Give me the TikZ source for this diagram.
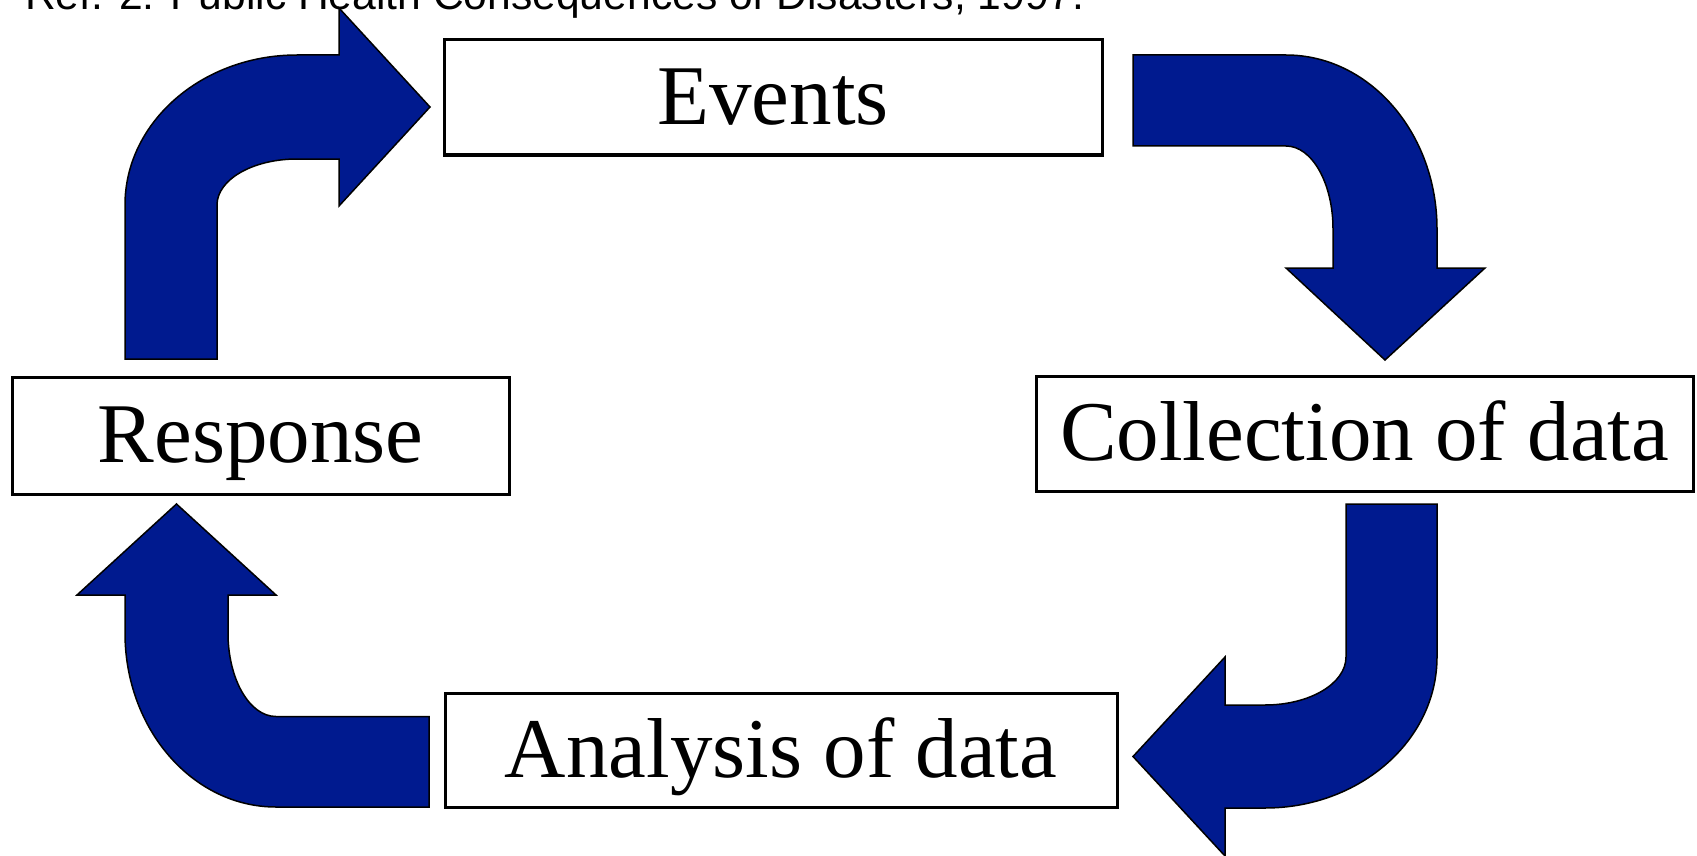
\documentclass[tikz,border=0pt]{standalone}
\usepackage{fontspec}
\setmainfont{Liberation Serif}
\newfontfamily\titlefont{Liberation Sans}
\definecolor{arrowblue}{RGB}{0,26,143}
\begin{document}
\begin{tikzpicture}[x=1pt,y=-1pt,
  stagebox/.style={draw=black,line width=3pt,fill=white,inner sep=0pt,
    text height=60pt,text depth=6pt,font=\fontsize{85}{90}\selectfont},
  blockarrow/.style={fill=arrowblue,draw=black,line width=1.5pt,line join=miter}]
\useasboundingbox (0,0) rectangle (1697,856);
\clip (0,0) rectangle (1697,856);
\fill[white] (0,0) rectangle (1697,856);
% title (partly cut off at the top, as in the reference)
\node[anchor=base west,inner sep=0pt,font=\titlefont\fontsize{42.6}{48}\selectfont] (title) at (25,10) {Ref. 2: Public Health Consequences of Disasters, 1997.};
% stages
\node[stagebox,minimum width=658pt,minimum height=115pt] (events) at (773,97.5) {Events};
\node[stagebox,minimum width=497pt,minimum height=117pt] (response) at (260.5,435.5) {Response};
\node[stagebox,minimum width=657pt,minimum height=115pt] (collection) at (1364.5,433.5) {Collection of data};
\node[stagebox,minimum width=672pt,minimum height=114pt] (analysis) at (781,750) {Analysis of data};
% block arrows
% Response -> Events
\draw[blockarrow] (125,359) -- (125,205) .. controls (125,122.2) and (202.1,55) .. (297,55) -- (339,55) -- (339,8) -- (430,107) -- (339,206) -- (339,159) -- (297,159) .. controls (252.8,159) and (217,179.6) .. (217,205) -- (217,359) -- cycle;
% Events -> Collection
\draw[blockarrow] (1133,55) -- (1286,55) .. controls (1369.4,55) and (1437,133) .. (1437,229) -- (1437,268) -- (1485,268) -- (1385,360) -- (1286,268) -- (1333,268) -- (1333,229) .. controls (1333,183.2) and (1312,146) .. (1286,146) -- (1133,146) -- cycle;
% Collection -> Analysis
\draw[blockarrow] (1346,504) -- (1437,504) -- (1437,657) .. controls (1437,740.4) and (1359.9,808) .. (1265,808) -- (1225,808) -- (1225,856) -- (1133,756.5) -- (1225,657) -- (1225,705) -- (1265,705) .. controls (1309.7,705) and (1346,683.5) .. (1346,657) -- cycle;
% Analysis -> Response
\draw[blockarrow] (429,716.5) -- (429,807) -- (276,807) .. controls (192.6,807) and (125,729) .. (125,633) -- (125,595) -- (77,595) -- (176.5,504) -- (276,595) -- (228,595) -- (228,633) .. controls (228,679.1) and (249.5,716.5) .. (276,716.5) -- cycle;
\end{tikzpicture}
\end{document}
